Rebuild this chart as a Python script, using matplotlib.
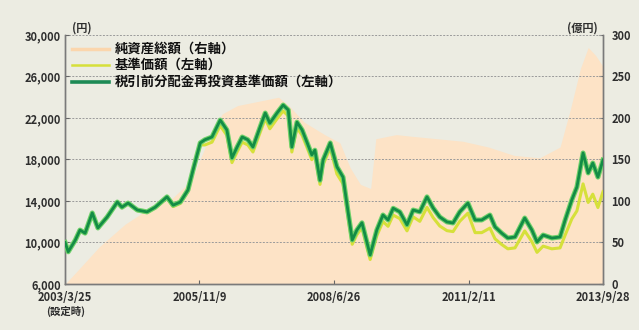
import numpy as np
import matplotlib
matplotlib.use("Agg")
import matplotlib.pyplot as plt

plt.rcParams['font.family'] = ['Noto Sans CJK JP', 'DejaVu Sans']

# dates as decimal years
years = [2003.23, 2003.29, 2003.43, 2003.52, 2003.62, 2003.76, 2003.87,
         2004.05, 2004.25, 2004.34, 2004.46, 2004.64, 2004.83, 2004.99,
         2005.22, 2005.34, 2005.48, 2005.63, 2005.73, 2005.87, 2005.96,
         2006.10, 2006.26, 2006.39, 2006.49, 2006.59, 2006.69, 2006.80, 2006.90,
         2007.04, 2007.14, 2007.23, 2007.37, 2007.49, 2007.59, 2007.66, 2007.76, 2007.86, 2007.96,
         2008.05, 2008.11, 2008.21, 2008.27, 2008.41, 2008.54, 2008.66, 2008.76, 2008.84, 2008.93,
         2009.03, 2009.13, 2009.19, 2009.32, 2009.44, 2009.54, 2009.64, 2009.77, 2009.91,
         2010.03, 2010.16, 2010.30, 2010.42, 2010.55, 2010.69, 2010.81, 2010.94,
         2011.10, 2011.24, 2011.37, 2011.53, 2011.63, 2011.76, 2011.88,
         2012.02, 2012.21, 2012.35, 2012.45, 2012.57, 2012.74, 2012.90,
         2013.00, 2013.13, 2013.23, 2013.35, 2013.45, 2013.54, 2013.64, 2013.74]

# 税引前分配金再投資基準価額 (円)
reinvest_nav = [10000, 9100, 10240, 11200, 10900, 12850, 11400,
                12450, 13900, 13400, 13800, 13130, 12950, 13400,
                14400, 13600, 13900, 15060, 17000, 19600, 19900,
                20170, 21800, 20850, 18150, 19200, 20170, 19900, 19200,
                21130, 22480, 21500, 22480, 23250, 22770, 19200, 21600, 20850, 19600,
                18440, 18900, 16000, 17950, 19600, 17300, 16300, 12900, 10240, 11200,
                11900, 9950, 8800, 11200, 12650, 12170, 13300, 12950, 11700,
                13130, 12950, 14400, 13330, 12460, 11980, 11880, 12950,
                13800, 12170, 12170, 12650, 11500, 10900, 10430,
                10530, 12360, 11200, 10050, 10720, 10430, 10530,
                12170, 14100, 15350, 18630, 16700, 17660, 16300, 17950]

# 基準価額 (円)
nav = [10000, 9100, 10230, 11180, 10880, 12820, 11370,
       12410, 13850, 13350, 13740, 13070, 12890, 13330,
       14260, 13460, 13760, 14910, 16830, 19400, 19400,
       19670, 21260, 20330, 17700, 18720, 19670, 19400, 18720,
       20600, 21920, 20960, 21920, 22670, 22200, 18720, 21060, 20330, 19110,
       17980, 18430, 15600, 17500, 19110, 16610, 15650, 12380, 9830, 10750,
       11420, 9450, 8360, 10640, 12020, 11560, 12640, 12300, 11120,
       12470, 12040, 13390, 12400, 11590, 11140, 11050, 12040,
       12830, 10950, 10950, 11390, 10350, 9810, 9390,
       9480, 11120, 10080, 9050, 9650, 9390, 9480,
       10710, 12270, 13050, 15650, 13860, 14660, 13370, 14900]

# 純資産総額 (億円)
asset_years = [2003.23, 2003.50, 2003.90, 2004.40, 2004.90, 2005.30, 2005.70,
               2006.00, 2006.30, 2006.60, 2007.00, 2007.40, 2007.60, 2007.90,
               2008.30, 2008.60, 2008.80, 2009.00, 2009.20, 2009.30, 2009.70,
               2010.00, 2010.50, 2011.00, 2011.50, 2012.00, 2012.50, 2012.90,
               2013.10, 2013.30, 2013.45, 2013.60, 2013.74]
net_assets = [0, 18, 45, 72, 92, 102, 125,
              170, 205, 215, 220, 225, 215, 195,
              180, 170, 140, 120, 115, 175, 180,
              178, 175, 172, 165, 155, 152, 165,
              210, 260, 285, 275, 262]

tick_dates = ['2003/3/25', '2005/11/9', '2008/6/26', '2011/2/11', '2013/9/28']
left_ticks = [6000, 10000, 14000, 18000, 22000, 26000, 30000]
right_ticks = [0, 50, 100, 150, 200, 250, 300]
legend_labels = ['純資産総額（右軸）', '基準価額（左軸）', '税引前分配金再投資基準価額（左軸）']

fill_col = '#fde3c6'
nav_col = '#d6e03a'
green_col = '#138c45'
text_col = '#2e2e2e'


def to_decimal_year(s):
    y, m, d = [int(v) for v in s.split('/')]
    days = np.datetime64(f'{y:04d}-{m:02d}-{d:02d}') - np.datetime64(f'{y:04d}-01-01')
    return y + days.astype(int) / 365.25


fig = plt.figure(figsize=(6.39, 3.30), dpi=100)
fig.patch.set_facecolor('#ecece2')

ax = fig.add_axes([0.1017, 0.1394, 0.842, 0.7546])
axr = ax.twinx()
ax.set_zorder(axr.get_zorder() + 1)
ax.patch.set_visible(False)
axr.patch.set_facecolor('white')

axr.fill_between(asset_years, 0, net_assets, color=fill_col, lw=0)
axr.set_ylim(0, 300)
axr.set_yticks(right_ticks)
axr.set_yticklabels([str(v) for v in right_ticks], fontsize=8, fontweight='bold', color=text_col)

ax.set_xlim(years[0], years[-1])
ax.set_ylim(6000, 30000)
ax.set_yticks(left_ticks)
ax.set_yticklabels([f'{v:,}' for v in left_ticks], fontsize=8, fontweight='bold', color=text_col)

for v in left_ticks[1:]:
    ax.axhline(v, color='#9a9a9a', lw=0.7, ls=(0, (2, 1.5)), zorder=1, clip_on=False)

ax.plot(years, nav, color=nav_col, lw=2.2, zorder=3)
ax.plot(years, reinvest_nav, color='#6fd16a', lw=3.6, zorder=4)
ax.plot(years, reinvest_nav, color=green_col, lw=2.0, zorder=5)

xt = [to_decimal_year(s) for s in tick_dates]
ax.set_xticks(xt)
ax.set_xticklabels(tick_dates, fontsize=8, fontweight='bold', color=text_col)
ax.tick_params(axis='x', direction='in', length=3, pad=5, color='#666666')
ax.tick_params(axis='y', direction='in', length=3, pad=3, color='#666666')
axr.tick_params(axis='y', direction='in', length=3, pad=6, color='#666666')

for a in (ax, axr):
    a.spines['top'].set_visible(False)
    for s in ('left', 'bottom', 'right'):
        a.spines[s].set_color('#7a7a7a')
        a.spines[s].set_linewidth(1.0)

fig.text(0.113, 0.915, '(円)', fontsize=8, fontweight='bold', color=text_col, va='center')
fig.text(0.936, 0.915, '(億円)', fontsize=8, fontweight='bold', color=text_col, ha='right', va='center')
fig.text(0.103, 0.055, '(設定時)', fontsize=7.5, fontweight='bold', color=text_col, ha='center', va='center')

# legend drawn by hand so rows sit where the original has them
legend_colors = ['#fbd6ad', nav_col, '#1d8a55']
legend_widths = [2.5, 1.8, 2.6]
row_y = [0.853, 0.803, 0.752]
for label, col, lw, y in zip(legend_labels, legend_colors, legend_widths, row_y):
    fig.add_artist(plt.Line2D([0.112, 0.170], [y, y], color=col, lw=lw, transform=fig.transFigure))
    fig.text(0.180, y, label, fontsize=9.6, fontweight='bold', color='#111111', va='center')

fig.savefig('out.png', dpi=100, facecolor=fig.get_facecolor())
